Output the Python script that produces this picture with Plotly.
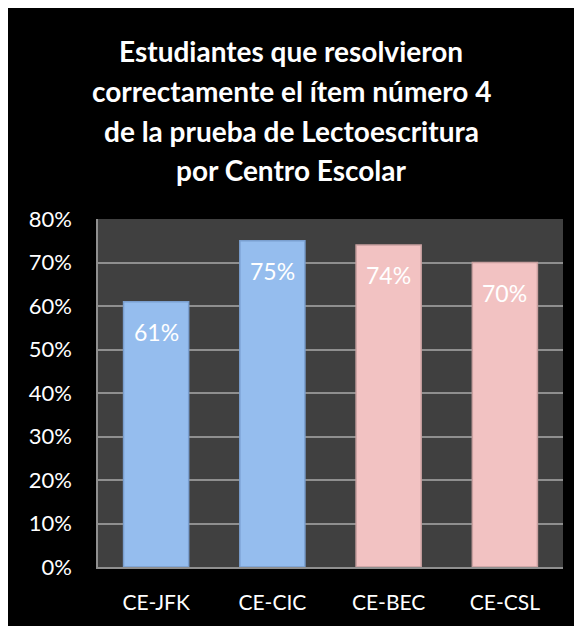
import plotly.graph_objects as go

categories = ["CE-JFK", "CE-CIC", "CE-BEC", "CE-CSL"]
values = [0.61, 0.75, 0.74, 0.70]
labels = ["61%", "75%", "74%", "70%"]
bar_colors = ["#95bdee", "#95bdee", "#f2c2c2", "#f2c2c2"]
edge_colors = ["#7a9fcf", "#7a9fcf", "#c9a0a0", "#c9a0a0"]
title_lines = [
    "Estudiantes que resolvieron",
    "correctamente el ítem número 4",
    "de la prueba de Lectoescritura",
    "por Centro Escolar",
]
tick_vals = [0, 0.1, 0.2, 0.3, 0.4, 0.5, 0.6, 0.7, 0.8]
tick_text = ["0%", "10%", "20%", "30%", "40%", "50%", "60%", "70%", "80%"]

W, H = 582, 626
ml, mr, mt, mb = 90, 27, 211, 67
pw, ph = W - ml - mr, H - mt - mb


def px_x(p):
    return (p - ml) / pw


def px_y(p):
    return (H - mb - p) / ph


fig = go.Figure()
fig.add_trace(go.Bar(
    x=categories, y=values,
    marker=dict(color=bar_colors, line=dict(color=edge_colors, width=1.5)),
    hoverinfo="skip",
))

annotations = []
for c, v, t in zip(categories, values, labels):
    annotations.append(dict(x=c, y=v, xref="x", yref="y", text=t, showarrow=False,
                            yshift=-30, font=dict(family="Lato", size=23, color="white")))
title_y = [43, 83, 123, 162]
for line, yy in zip(title_lines, title_y):
    annotations.append(dict(x=px_x(283), y=px_y(yy), xref="paper", yref="paper",
                            text="<b>" + line + "</b>", showarrow=False,
                            xanchor="center", yanchor="middle",
                            font=dict(family="Lato", size=28, color="white")))

fig.update_layout(
    width=W, height=H,
    margin=dict(l=ml, r=mr, t=mt, b=mb, pad=0),
    paper_bgcolor="black",
    plot_bgcolor="#404040",
    showlegend=False,
    bargap=0.44,
    annotations=annotations,
    font=dict(family="Lato", color="white"),
    xaxis=dict(showgrid=False, showline=True, linecolor="#8f8f8f", linewidth=2,
               tickfont=dict(size=21, color="white"), ticks="", ticklabelstandoff=16,
               fixedrange=True),
    yaxis=dict(range=[0, 0.8], tickvals=tick_vals, ticktext=tick_text,
               showgrid=True, gridcolor="#8f8f8f", gridwidth=1.5,
               showline=True, linecolor="#8f8f8f", linewidth=1.5,
               tickfont=dict(size=22, color="white"), ticks="", ticklabelstandoff=20,
               zeroline=False, fixedrange=True),
)

fig.write_html("out.html")
